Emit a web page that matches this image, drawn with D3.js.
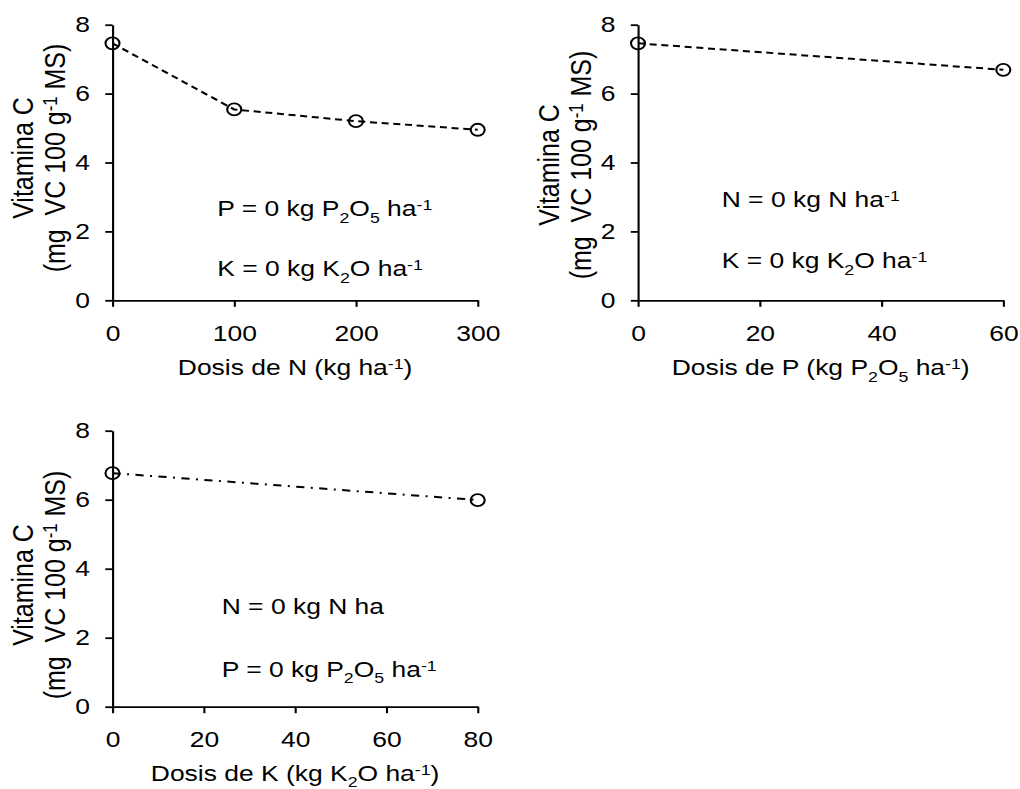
<!DOCTYPE html>
<html><head><meta charset="utf-8">
<script src="https://cdn.jsdelivr.net/npm/d3@7"></script>
<style>
html,body{margin:0;padding:0;background:#fff;}
svg{display:block;}
text{font-family:"Liberation Sans", Arial, sans-serif; fill:#000;}
</style></head>
<body><svg id="chart" width="1020" height="789"></svg>
<script>
// ---------- data ----------
const nDose = [0, 100, 200, 300];
const nVitC = [7.46, 5.54, 5.20, 4.95];
const pDose = [0, 60];
const pVitC = [7.46, 6.69];
const kDose = [0, 80];
const kVitC = [6.77, 5.99];
const yTicks = [0, 2, 4, 6, 8];
const nTicks = [0, 100, 200, 300];
const pTicks = [0, 20, 40, 60];
const kTicks = [0, 20, 40, 60, 80];
const yLabel1 = [["Vitamina C", ""]];
const yLabel2 = [["(mg\u00A0\u00A0VC 100 g", ""], ["-1", "sup"], [" MS)", ""]];

// ---------- layout ----------
const S = 1.17; // horizontal stretch of the reference
const FS = 22.6;
const svg = d3.select("#chart");
const root = svg.append("g").attr("transform", `scale(${S},1)`);

function rich(sel, parts, fs) {
  let cur = 0;
  parts.forEach(([t, type]) => {
    let target = 0, size = fs;
    if (type === "sup") { target = -0.27 * fs; size = 0.67 * fs; }
    if (type === "sub") { target = 0.3 * fs; size = 0.67 * fs; }
    sel.append("tspan").attr("font-size", size).attr("dy", target - cur).text(t);
    cur = target;
  });
}

const panels = [
  { dose: nDose, vit: nVitC, ticks: nTicks, xMax: 300,
    x0: 112.5, x1: 477.7, yT: 24.7, yB: 300.3, dash: "6,4",
    title: [["Dosis de N (kg ha", ""], ["-1", "sup"], [")", ""]], titleY: 375,
    yLabC: 158,
    notes: [
      { x: 217.3, y: 216, parts: [["P = 0 kg P", ""], ["2", "sub"], ["O", ""], ["5", "sub"], [" ha", ""], ["-1", "sup"]] },
      { x: 217.3, y: 276, parts: [["K = 0 kg K", ""], ["2", "sub"], ["O ha", ""], ["-1", "sup"]] }
    ] },
  { dose: pDose, vit: pVitC, ticks: pTicks, xMax: 60,
    x0: 638.0, x1: 1003.3, yT: 24.7, yB: 300.3, dash: "6,4",
    title: [["Dosis de P (kg P", ""], ["2", "sub"], ["O", ""], ["5", "sub"], [" ha", ""], ["-1", "sup"], [")", ""]], titleY: 375,
    yLabC: 165,
    notes: [
      { x: 721.7, y: 206.7, parts: [["N = 0 kg N ha", ""], ["-1", "sup"]] },
      { x: 721.7, y: 268.3, parts: [["K = 0 kg K", ""], ["2", "sub"], ["O ha", ""], ["-1", "sup"]] }
    ] },
  { dose: kDose, vit: kVitC, ticks: kTicks, xMax: 80,
    x0: 112.5, x1: 477.7, yT: 430.7, yB: 706.7, dash: "7,5.5,1.7,5.5",
    title: [["Dosis de K (kg K", ""], ["2", "sub"], ["O ha", ""], ["-1", "sup"], [")", ""]], titleY: 780.7,
    yLabC: 585,
    notes: [
      { x: 221.7, y: 614, parts: [["N = 0 kg N ha", ""]] },
      { x: 221.7, y: 676.7, parts: [["P = 0 kg P", ""], ["2", "sub"], ["O", ""], ["5", "sub"], [" ha", ""], ["-1", "sup"]] }
    ] }
];

panels.forEach(p => {
  const g = root.append("g");
  const x = d3.scaleLinear().domain([0, p.xMax]).range([p.x0 / S, p.x1 / S]);
  const y = d3.scaleLinear().domain([0, 8]).range([p.yB, p.yT]);

  const ya = g.append("g").attr("transform", `translate(${x(0)},0)`)
    .call(d3.axisLeft(y).tickValues(yTicks).tickSize(7.2 / S).tickSizeOuter(0).tickPadding(13.2).tickFormat(d3.format("d")));
  const xa = g.append("g").attr("transform", `translate(0,${y(0)})`)
    .call(d3.axisBottom(x).tickValues(p.ticks).tickSize(6.5).tickSizeOuter(0).tickPadding(17.8).tickFormat(d3.format("d")));
  [ya, xa].forEach(a => {
    a.attr("font-family", null).attr("font-size", null);
    a.selectAll("path,line").attr("stroke", "#000").attr("stroke-width", 1.8);
    a.selectAll("text").attr("font-size", FS).attr("fill", "#000");
  });

  const pts = p.dose.map((d, i) => [d, p.vit[i]]);
  g.append("path").datum(pts)
    .attr("d", d3.line().x(d => x(d[0])).y(d => y(d[1])))
    .attr("fill", "none").attr("stroke", "#000").attr("stroke-width", 2)
    .attr("stroke-dasharray", p.dash);
  g.selectAll("circle.m").data(pts).join("circle").attr("class", "m")
    .attr("cx", d => x(d[0])).attr("cy", d => y(d[1])).attr("r", 6)
    .attr("fill", "none").attr("stroke", "#000").attr("stroke-width", 1.8);

  // x title
  const tt = g.append("text").attr("x", (p.x0 + p.x1) / 2 / S).attr("y", p.titleY)
    .attr("text-anchor", "middle").attr("font-size", FS);
  rich(tt, p.title, FS);

  // y title (two lines, rotated)
  const l1 = g.append("text").attr("text-anchor", "middle").attr("font-size", 25)
    .attr("transform", `translate(${x(0) - 79.5 / S},${p.yLabC}) rotate(-90)`);
  rich(l1, yLabel1, 25);
  const l2 = g.append("text").attr("text-anchor", "middle").attr("font-size", 25)
    .attr("transform", `translate(${x(0) - 47.5 / S},${p.yLabC}) rotate(-90)`);
  rich(l2, yLabel2, 25);

  // annotations
  p.notes.forEach(n => {
    const t = g.append("text").attr("x", n.x / S).attr("y", n.y).attr("font-size", FS);
    rich(t, n.parts, FS);
  });
});
</script></body></html>
